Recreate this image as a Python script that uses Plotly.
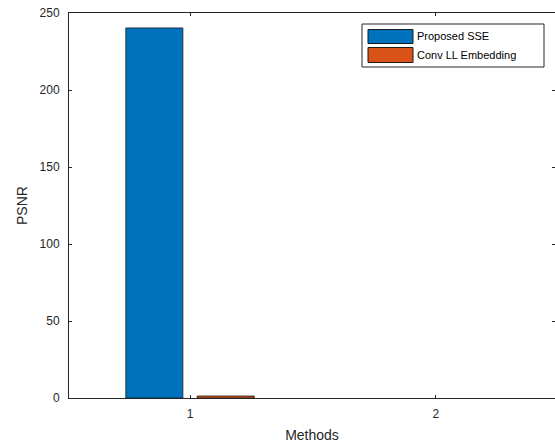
import plotly.graph_objects as go

categories = [1, 2]
series_names = ["Proposed SSE", "Conv LL Embedding"]
proposed_sse = [240.3, None]
conv_ll = [1.3, None]
y_ticks = [0, 50, 100, 150, 200, 250]
x_ticks = [1, 2]

colors = ["#0072BD", "#D95319"]

W, H = 555, 446
ml, mr, mt, mb = 69, 0, 13, 48

fig = go.Figure()
for name, vals, c in zip(series_names, [proposed_sse, conv_ll], colors):
    fig.add_trace(go.Bar(
        x=categories, y=vals, name=name,
        marker=dict(color=c, line=dict(color="#1a1a1a", width=0.8)),
        showlegend=False,
    ))

axis_font = dict(family="Liberation Sans, Arial, sans-serif", size=12, color="#262626")

fig.update_layout(
    width=W, height=H,
    margin=dict(l=ml, r=mr, t=mt, b=mb, pad=0),
    paper_bgcolor="white", plot_bgcolor="white",
    barmode="group", bargap=0.42, bargroupgap=0.2,
    font=axis_font,
    xaxis=dict(
        range=[0.508, 2.484], tickvals=x_ticks, ticktext=[str(v) for v in x_ticks],
        ticks="inside", ticklen=3, tickcolor="#262626", ticklabelstandoff=5,
        ticklabeloverflow="allow",
        showline=True, linecolor="#262626", linewidth=1, mirror="ticks",
        showgrid=False, zeroline=False,
        title=dict(text="Methods", font=dict(size=14, color="#262626"), standoff=9),
    ),
    yaxis=dict(
        range=[0, 250], tickvals=y_ticks,
        ticks="inside", ticklen=3, tickcolor="#262626", ticklabelstandoff=6,
        ticklabeloverflow="allow",
        showline=True, linecolor="#262626", linewidth=1, mirror="ticks",
        showgrid=False, zeroline=False,
        title=dict(text="PSNR", font=dict(size=14, color="#262626"), standoff=8),
    ),
)

# Custom MATLAB-style legend (paper coords computed from window pixels)
pw = W - ml - mr
ph = H - mt - mb
def px(x):
    return (x - ml) / pw
def py(y):
    return 1 - (y - mt) / ph

fig.add_shape(type="rect", xref="paper", yref="paper",
              x0=px(362), x1=px(544), y0=py(67), y1=py(24),
              line=dict(color="#262626", width=1), fillcolor="white")
sw_y = [(29.5, 43.5), (47.5, 62.5)]
for (y0, y1), name, c in zip(sw_y, series_names, colors):
    fig.add_shape(type="rect", xref="paper", yref="paper",
                  x0=px(368), x1=px(413), y0=py(y1), y1=py(y0),
                  line=dict(color="#1a1a1a", width=1), fillcolor=c)
    fig.add_annotation(xref="paper", yref="paper", x=px(415), y=py((y0 + y1) / 2),
                       text=name, showarrow=False, xanchor="left", yanchor="middle",
                       font=dict(family="Liberation Sans, Arial, sans-serif", size=11, color="#000000"))

fig.write_html(
    "out.html",
    config={"displayModeBar": False},
    post_script="document.body.style.margin='0';document.body.style.overflow='hidden';",
)
